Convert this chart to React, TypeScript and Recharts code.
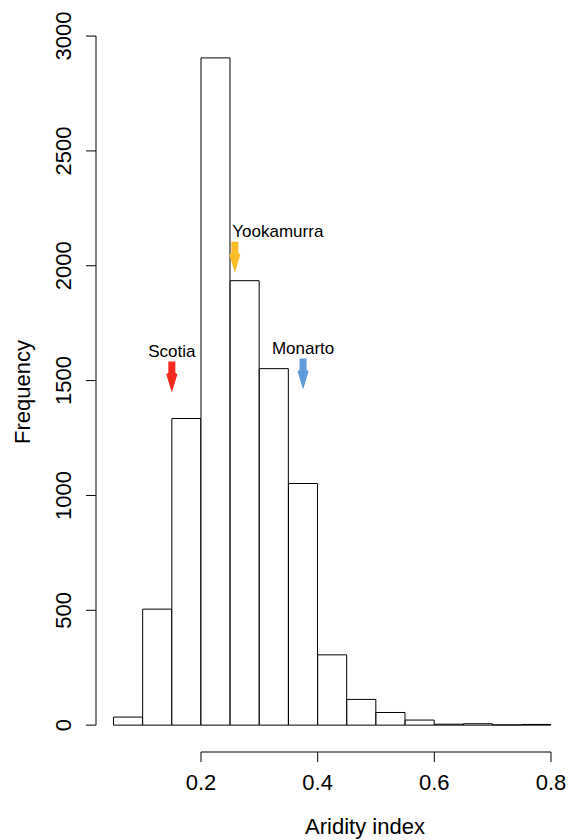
import React from 'react';
import { ComposedChart, Bar, Scatter, XAxis, YAxis, ReferenceLine, Label } from 'recharts';

// histogram bins (midpoints, width 0.05) and counts
const binMids = [0.075, 0.125, 0.175, 0.225, 0.275, 0.325, 0.375, 0.425, 0.475, 0.525, 0.575, 0.625, 0.675, 0.725, 0.775];
const binCounts = [35, 505, 1335, 2905, 1935, 1552, 1052, 306, 112, 55, 22, 4, 6, 1, 3];

const siteNames = ['Scotia', 'Yookamurra', 'Monarto'];
const siteAridity = [0.15, 0.258, 0.375];
const siteArrowTip = [1448, 1970, 1461];
const siteColors = ['#f5291f', '#f9bd27', '#5e9bd8'];

const xTicks = [0.2, 0.4, 0.6, 0.8];
const yTicks = [0, 500, 1000, 1500, 2000, 2500, 3000];
const xLim = [0.02, 0.8343];
const yLim = [-117, 3070];

const bins = binMids.map((x, i) => ({ x, count: binCounts[i] }));
const sites = siteNames.map((name, i) => ({ x: siteAridity[i], y: siteArrowTip[i], name, color: siteColors[i] }));

const FONT = 'Liberation Sans, Arial, Helvetica, sans-serif';

const Arrow = (props: any) => {
  const { cx, cy, payload } = props;
  const sw = 3.5;
  const hw = 5.5;
  const d = `M${cx - sw},${cy - 31} L${cx + sw},${cy - 31} L${cx + sw},${cy - 20} L${cx + hw},${cy - 18} L${cx},${cy} L${cx - hw},${cy - 18} L${cx - sw},${cy - 20} Z`;
  const labelX = payload.name === 'Yookamurra' ? cx + 43 : cx;
  return (
    <g>
      <path d={d} fill={payload.color} />
      <text x={labelX} y={cy - 36} textAnchor="middle" fontFamily={FONT} fontSize={17} fill="#000">
        {payload.name}
      </text>
    </g>
  );
};

const YTick = (props: any) => {
  const { x, y, payload } = props;
  return (
    <text x={0} y={0} transform={`translate(${x - 13},${y}) rotate(-90)`} textAnchor="middle" fontFamily={FONT} fontSize={22} fill="#000">
      {payload.value}
    </text>
  );
};

const XTick = (props: any) => {
  const { x, y, payload } = props;
  return (
    <text x={x} y={y + 26} textAnchor="middle" fontFamily={FONT} fontSize={22} fill="#000">
      {payload.value}
    </text>
  );
};

export default function App() {
  return (
    <div style={{ position: 'absolute', left: 0, top: 0, width: 571, height: 840, background: '#fff' }}>
      <ComposedChart width={571} height={840} data={bins} margin={{ top: 20, right: 0, bottom: 0, left: 0 }} barCategoryGap={0} barGap={0}>
        <XAxis
          dataKey="x"
          type="number"
          domain={xLim}
          ticks={xTicks}
          axisLine={false}
          tickSize={10}
          tickLine={{ stroke: '#000' }}
          tick={<XTick />}
          height={88}
          interval={0}
        >
          <Label
            content={() => (
              <text x={365} y={834} textAnchor="middle" fontFamily={FONT} fontSize={22} fill="#000">
                Aridity index
              </text>
            )}
          />
        </XAxis>
        <XAxis xAxisId="sites" dataKey="x" type="number" domain={xLim} hide />
        <YAxis
          type="number"
          domain={yLim}
          ticks={yTicks}
          axisLine={false}
          tickSize={10}
          tickLine={{ stroke: '#000' }}
          tick={<YTick />}
          width={96}
          interval={0}
        >
          <Label
            content={() => (
              <text x={0} y={0} transform="translate(30,392) rotate(-90)" textAnchor="middle" fontFamily={FONT} fontSize={22} fill="#000">
                Frequency
              </text>
            )}
          />
        </YAxis>
        <ReferenceLine segment={[{ x: 0.02, y: 0 }, { x: 0.02, y: 3000 }]} stroke="#000" strokeWidth={1} ifOverflow="visible" />
        <ReferenceLine segment={[{ x: 0.2, y: -117 }, { x: 0.8, y: -117 }]} stroke="#000" strokeWidth={1} ifOverflow="visible" />
        <Bar dataKey="count" fill="#fff" stroke="#000" strokeWidth={1} isAnimationActive={false} />
        <Scatter xAxisId="sites" data={sites} dataKey="y" shape={<Arrow />} isAnimationActive={false} />
      </ComposedChart>
    </div>
  );
}
